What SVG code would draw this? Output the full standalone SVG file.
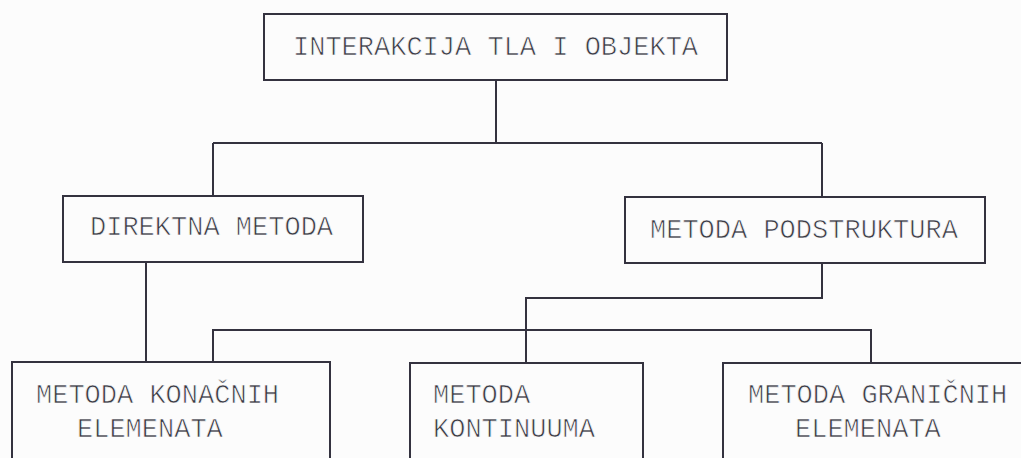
<svg xmlns="http://www.w3.org/2000/svg" width="1021" height="458" viewBox="0 0 1021 458">
<style>
.box{fill:none;stroke:#34323f;stroke-width:2}
.ln{fill:none;stroke:#34323f;stroke-width:2}
text{font-family:"Liberation Mono","DejaVu Sans Mono",monospace;font-size:27px;fill:#3a3a44;stroke:#fcfcfc;stroke-width:0.7}
</style>
<rect width="1021" height="458" fill="#fcfcfc"/>
<g id="connectors">
<path class="ln" d="M496 80 V143 M213 143 H822 M213 143 V196 M822 143 V197"/>
<path class="ln" d="M146 262 V362"/>
<path class="ln" d="M822 263 V298 H526 V363"/>
<path class="ln" d="M213 362 V330 H871 V363"/>
</g>
<g id="n-top">
<rect class="box" x="264" y="14" width="463" height="66"/>
<text x="293" y="55">INTERAKCIJA TLA I OBJEKTA</text>
</g>
<g id="n-direktna">
<rect class="box" x="63" y="196" width="300" height="66"/>
<text x="90" y="235">DIREKTNA METODA</text>
</g>
<g id="n-podstruktura">
<rect class="box" x="625" y="197" width="360" height="66"/>
<text x="650" y="238">METODA PODSTRUKTURA</text>
</g>
<g id="n-konacnih">
<rect class="box" x="12" y="362" width="318" height="110"/>
<text x="36" y="403">METODA KONAČNIH</text>
<text x="77" y="437">ELEMENATA</text>
</g>
<g id="n-kontinuuma">
<rect class="box" x="410" y="363" width="233" height="110"/>
<text x="433" y="403">METODA</text>
<text x="433" y="437">KONTINUUMA</text>
</g>
<g id="n-granicnih">
<rect class="box" x="723" y="363" width="320" height="110"/>
<text x="748" y="403">METODA GRANIČNIH</text>
<text x="795" y="437">ELEMENATA</text>
</g>
</svg>
